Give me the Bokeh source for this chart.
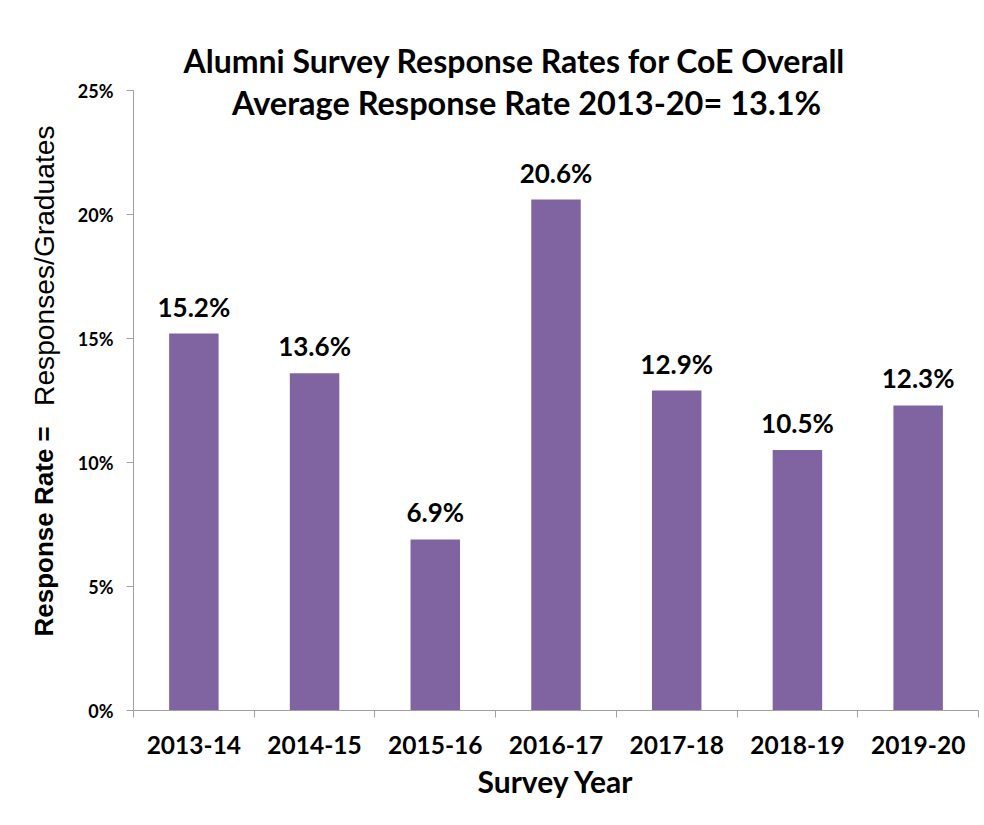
import math
from bokeh.plotting import figure
from bokeh.layouts import row
from bokeh.models import (Range1d, LinearAxis, FixedTicker, NumeralTickFormatter, Label,
                          Title, ColumnDataSource)
from bokeh.core.properties import value
from bokeh.embed import file_html
from bokeh.resources import INLINE

years = ["2013-14", "2014-15", "2015-16", "2016-17", "2017-18", "2018-19", "2019-20"]
rates = [0.152, 0.136, 0.069, 0.206, 0.129, 0.105, 0.123]
y_ticks = [0.0, 0.05, 0.10, 0.15, 0.20, 0.25]
title1 = "Alumni Survey Response Rates for CoE Overall"
title2 = "Average Response Rate 2013-20= 13.1%"
ylabel_bold = "Response Rate ="
ylabel_plain = "Responses/Graduates"

BAR = "#8064A2"
AXIS = "#A0A0A0"
TXT = "#000000"

H = 813
LW = 70  # width of the strip holding the y-axis title
TOP, BOTTOM = 90, 710  # frame edges in page pixels

n = len(years)
centers = [i + 0.5 for i in range(n)]
src = ColumnDataSource(dict(x=centers, year=years, rate=rates,
                            label=[f"{r * 100:.1f}%" for r in rates]))

p = figure(width=984 - LW, height=H,
           x_range=Range1d(0, n), y_range=Range1d(0, 0.25),
           x_axis_location=None, y_axis_location="left",
           output_backend="svg", toolbar_location=None,
           min_border_left=133 - LW, min_border_right=6,
           min_border_top=TOP, min_border_bottom=H - BOTTOM)
p.outline_line_color = None
p.grid.visible = False
p.background_fill_color = "white"
p.border_fill_color = "white"

# y axis
ya = p.yaxis[0]
ya.ticker = FixedTicker(ticks=y_ticks)
ya.formatter = NumeralTickFormatter(format="0%")
ya.axis_line_color = AXIS
ya.major_tick_line_color = AXIS
ya.major_tick_in = 0
ya.major_tick_out = 7
ya.minor_tick_line_color = None
ya.major_label_standoff = 13
ya.major_label_text_font = "Lato"
ya.major_label_text_font_style = "bold"
ya.major_label_text_font_size = "18px"
ya.major_label_text_color = TXT

# x axis: category labels at centres, tick marks at category boundaries
xa = LinearAxis(ticker=FixedTicker(ticks=centers, minor_ticks=list(range(n + 1))),
                major_label_overrides={c: y for c, y in zip(centers, years)},
                axis_line_color=AXIS, major_tick_line_color=None,
                major_tick_in=0, major_tick_out=0,
                minor_tick_line_color=AXIS, minor_tick_in=0, minor_tick_out=7,
                major_label_standoff=18,
                major_label_text_font="Lato", major_label_text_font_style="bold",
                major_label_text_font_size="24.5px", major_label_text_color=TXT,
                axis_label="Survey Year", axis_label_standoff=6,
                axis_label_text_font="Lato", axis_label_text_font_style="bold",
                axis_label_text_font_size="30px", axis_label_text_color=TXT)
p.add_layout(xa, "below")

p.vbar(x="x", top="rate", width=0.41, source=src, fill_color=BAR, line_color=None)
p.text(x="x", y="rate", text="label", source=src, text_align="center",
       text_baseline="alphabetic", y_offset=-27, text_font=value("Lato"),
       text_font_style="bold", text_font_size="26px", text_color=TXT)

p.add_layout(Title(text=title1, align="left", offset=50, standoff=21,
                   text_font="Lato", text_font_style="bold", text_font_size="32px",
                   text_color=TXT), "above")
p.add_layout(Label(x=3.256, y=0.2453, text=title2, text_align="center", text_baseline="middle",
                   text_font="Lato", text_font_style="bold", text_font_size="32.5px",
                   text_color=TXT))

# strip on the left for the two-weight y-axis title (its frame is aligned with the main frame)
side = figure(width=LW, height=H, x_range=Range1d(0, LW), y_range=Range1d(BOTTOM, TOP),
              x_axis_location=None, y_axis_location=None,
              output_backend="svg", toolbar_location=None,
              min_border_left=0, min_border_right=0,
              min_border_top=TOP, min_border_bottom=H - BOTTOM)
side.outline_line_color = None
side.grid.visible = False
side.add_layout(Label(x=43, y=636, angle=math.pi / 2, text=ylabel_bold,
                      text_align="left", text_baseline="middle",
                      text_font="Liberation Sans", text_font_style="bold",
                      text_font_size="26px", text_color=TXT))
side.add_layout(Label(x=43, y=125, angle=math.pi / 2, text=ylabel_plain,
                      text_align="right", text_baseline="middle",
                      text_font="Liberation Sans", text_font_size="28.2px",
                      text_color=TXT))

layout = row(side, p, spacing=0)
open("out.html", "w").write(file_html(layout, INLINE))
